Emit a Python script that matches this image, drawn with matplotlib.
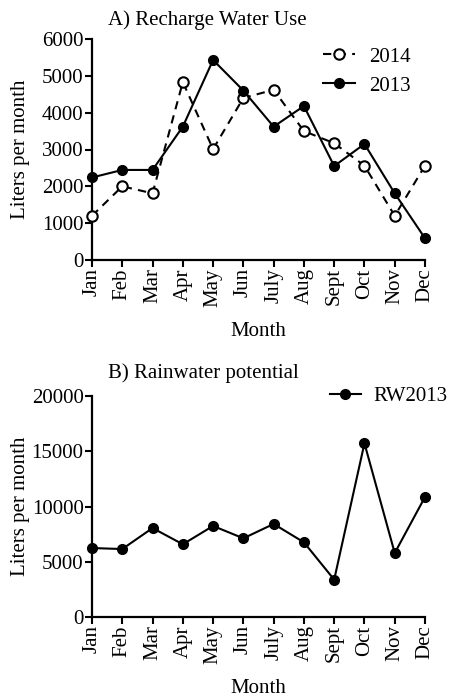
import matplotlib
matplotlib.use("Agg")
import matplotlib.pyplot as plt

plt.rcParams['font.family'] = ['Liberation Serif', 'DejaVu Serif']

months = ["Jan", "Feb", "Mar", "Apr", "May", "Jun", "July", "Aug", "Sept", "Oct", "Nov", "Dec"]
use_2014 = [1200, 2000, 1810, 4830, 3010, 4400, 4620, 3500, 3170, 2560, 1200, 2560]
use_2013 = [2240, 2445, 2445, 3620, 5430, 4600, 3620, 4180, 2550, 3150, 1810, 590]
rw_2013 = [6240, 6150, 8050, 6580, 8240, 7120, 8420, 6760, 3380, 15720, 5790, 10860]

W, H = 455, 697
fig = plt.figure(figsize=(W / 100, H / 100), dpi=100)

def ax_rect(l, t, r, b):
    return [l / W, 1 - b / H, (r - l) / W, (b - t) / H]

FS = 15

def style(ax, ymax, ystep):
    for s in ["top", "right"]:
        ax.spines[s].set_visible(False)
    for s in ["left", "bottom"]:
        ax.spines[s].set_linewidth(1.6)
    ax.set_xlim(0, 11)
    ax.set_ylim(0, ymax)
    ax.set_yticks(range(0, ymax + 1, ystep))
    ax.set_xticks(range(len(months)))
    ax.set_xticklabels(months, rotation=90, fontsize=FS)
    ax.tick_params(axis="both", direction="out", length=5, width=1.5, labelsize=FS, pad=1)
    ax.set_ylabel("Liters per month", fontsize=FS)
    ax.yaxis.set_label_coords((30 - 92) / 333, 0.5)
    ax.set_xlabel("Month", fontsize=FS, labelpad=11)

ax1 = fig.add_axes(ax_rect(92, 39, 425, 260))
x = list(range(len(months)))
ax1.plot(x, use_2014, linestyle=(0, (4, 3)), color="black", lw=1.5, marker="o",
         markersize=7.5, markerfacecolor="white", markeredgewidth=1.5, clip_on=False, label="2014", zorder=3)
ax1.plot(x, use_2013, linestyle="-", color="black", lw=1.5, marker="o",
         markersize=7, markerfacecolor="black", clip_on=False, label="2013", zorder=4)
style(ax1, 6000, 1000)
ax1.legend(loc="upper right", bbox_to_anchor=(0.995, 1.02), frameon=False, fontsize=FS,
           handlelength=1.5, handletextpad=0.7, labelspacing=0.45, borderaxespad=0.2)
fig.text(108 / W, 1 - 20 / H, "A) Recharge Water Use", fontsize=FS, ha="left", va="center")

ax2 = fig.add_axes(ax_rect(92, 396, 425, 617))
ax2.plot(x, rw_2013, linestyle="-", color="black", lw=1.5, marker="o",
         markersize=7, markerfacecolor="black", clip_on=False, label="RW2013", zorder=4)
style(ax2, 20000, 5000)
ax2.legend(loc="upper right", bbox_to_anchor=(1.105, 1.1), frameon=False, fontsize=FS,
           handlelength=1.5, handletextpad=0.6, borderaxespad=0.2)
fig.text(108 / W, 1 - 373 / H, "B) Rainwater potential", fontsize=FS, ha="left", va="center")

fig.savefig("out.png", dpi=100)
